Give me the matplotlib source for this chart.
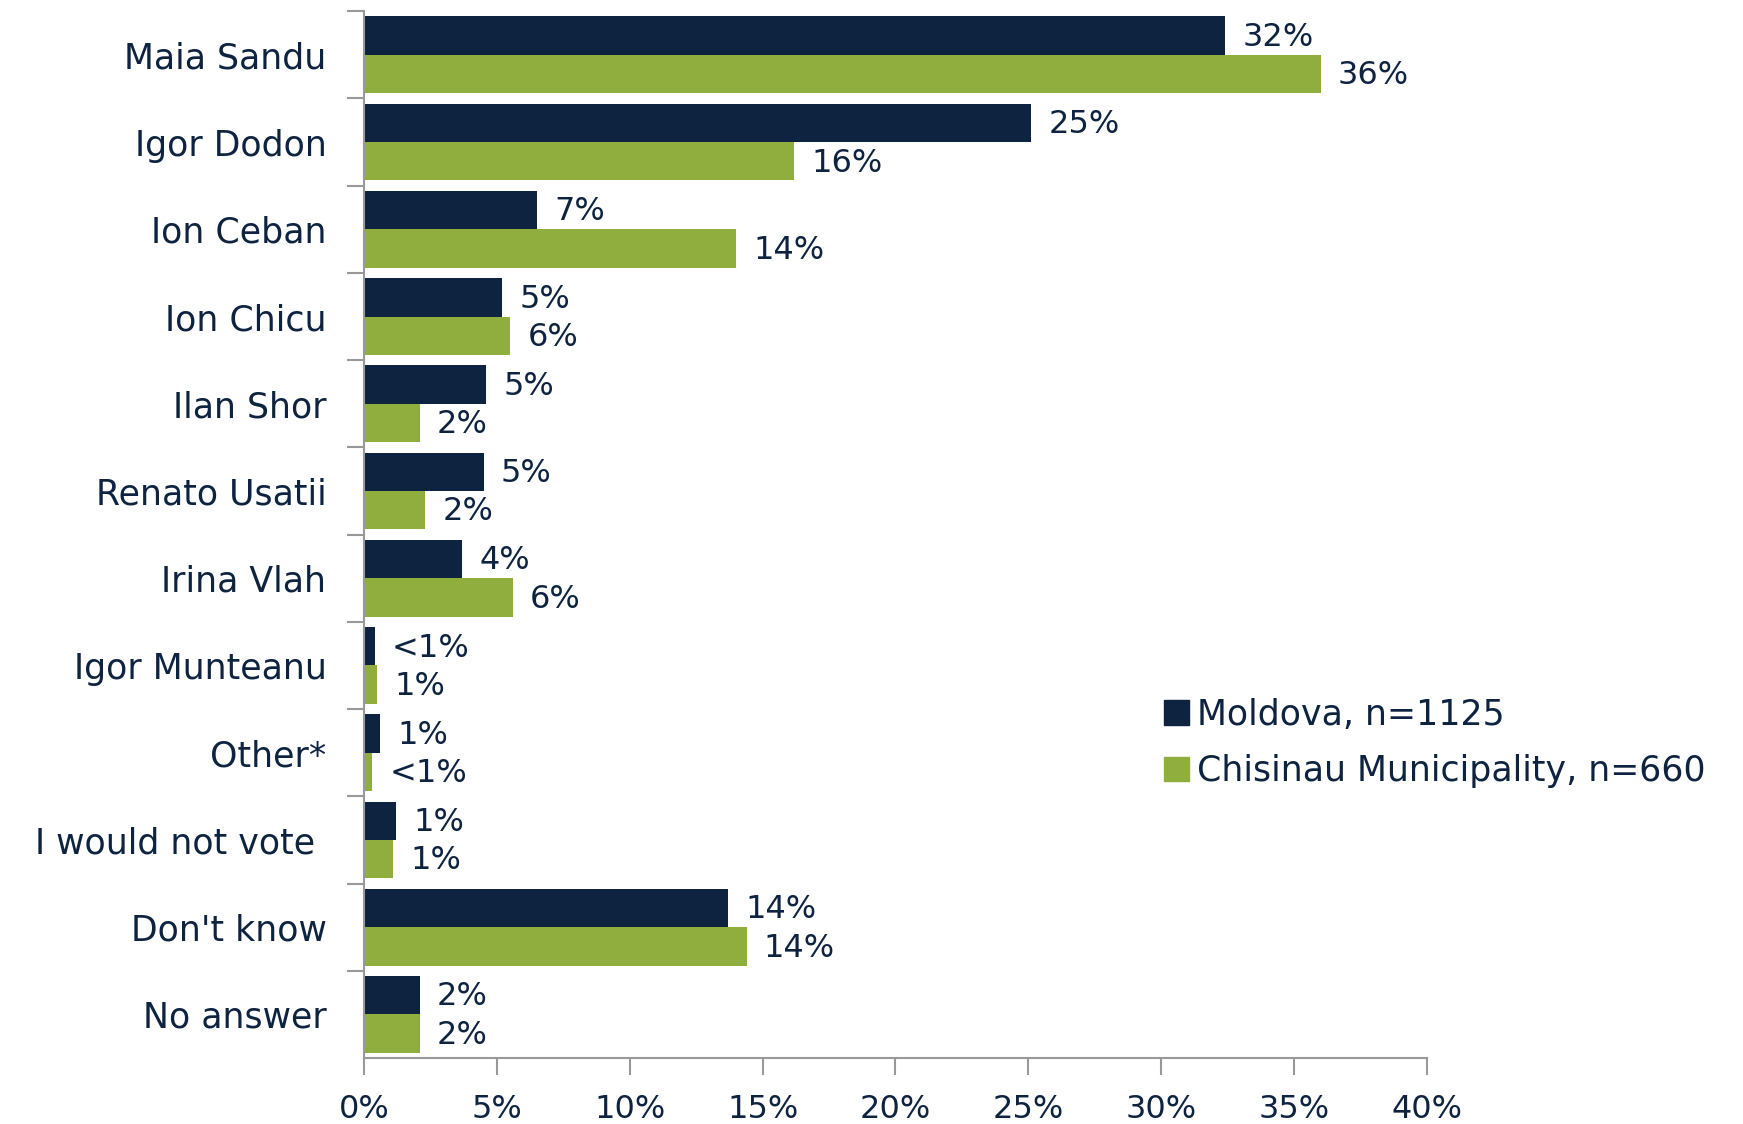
import numpy as np
import matplotlib.pyplot as plt
from matplotlib.patches import Patch

# Survey data (percent)
categories = ["Maia Sandu", "Igor Dodon", "Ion Ceban", "Ion Chicu", "Ilan Shor",
              "Renato Usatii", "Irina Vlah", "Igor Munteanu", "Other*",
              "I would not vote ", "Don't know", "No answer"]
moldova = [32.4, 25.1, 6.5, 5.2, 4.6, 4.5, 3.7, 0.4, 0.6, 1.2, 13.7, 2.1]
chisinau = [36.0, 16.2, 14.0, 5.5, 2.1, 2.3, 5.6, 0.5, 0.3, 1.1, 14.4, 2.1]
moldova_labels = ["32%", "25%", "7%", "5%", "5%", "5%", "4%", "<1%", "1%", "1%", "14%", "2%"]
chisinau_labels = ["36%", "16%", "14%", "6%", "2%", "2%", "6%", "1%", "<1%", "1%", "14%", "2%"]
series_names = ["Moldova, n=1125", "Chisinau Municipality, n=660"]

navy = "#0e2340"
green = "#8fae3e"
grey = "#999999"

plt.rcParams['font.family'] = ['DejaVu Sans']

fig = plt.figure(figsize=(17.43, 11.24), dpi=100)
ax = fig.add_axes([0.2088, 0.0587, 0.6099, 0.9313])

y = np.arange(len(categories))
h = 0.44
ax.barh(y - h / 2, moldova, height=h, color=navy)
ax.barh(y + h / 2, chisinau, height=h, color=green)

for i in range(len(categories)):
    ax.text(moldova[i] + 0.65, y[i] - h / 2 + 0.02, moldova_labels[i], va="center", ha="left",
            fontsize=23, color=navy)
    ax.text(chisinau[i] + 0.65, y[i] + h / 2 + 0.02, chisinau_labels[i], va="center", ha="left",
            fontsize=23, color=navy)

ax.set_xlim(0, 40)
ax.set_ylim(len(categories) - 0.5, -0.5)
ax.set_xticks(np.arange(0, 41, 5))
ax.set_xticklabels([f"{v}%" for v in range(0, 41, 5)], fontsize=23, color=navy)
ax.set_yticks(y)
ax.set_yticklabels(categories, fontsize=25, color=navy)
ax.set_yticks(np.arange(-0.5, len(categories) - 0.5, 1), minor=True)
ax.tick_params(axis="y", which="major", length=0, pad=27)
ax.tick_params(axis="y", which="minor", length=12, color=grey, width=1.5)
ax.tick_params(axis="x", length=12, color=grey, width=1.5, pad=14)

for s in ["top", "right"]:
    ax.spines[s].set_visible(False)
for s in ["left", "bottom"]:
    ax.spines[s].set_color(grey)
    ax.spines[s].set_linewidth(1.5)

handles = [Patch(color=navy), Patch(color=green)]
fig.legend(handles, series_names, loc="center left", bbox_to_anchor=(0.650, 0.339),
           frameon=False, fontsize=25, labelcolor=navy, handlelength=0.7,
           handleheight=0.7, handletextpad=0.25, labelspacing=0.65)

fig.savefig("out.png", dpi=100)
